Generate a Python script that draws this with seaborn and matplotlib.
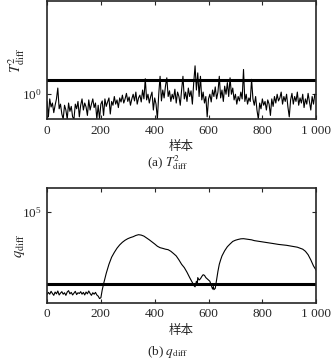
import numpy as np
import pandas as pd
import seaborn as sns
import matplotlib.pyplot as plt
from matplotlib.ticker import FixedLocator, NullLocator

# T2_diff statistic, every 5th sample
t2_samples = list(range(0, 1000, 5))
t2_values = [
    0.85, 0.60, 0.90, 0.75, 0.82, 0.66, 0.78, 0.90, 1.15, 0.72,
    0.80, 0.64, 0.57, 0.78, 0.70, 0.57, 0.82, 0.68, 0.76, 0.60,
    0.57, 0.80, 0.72, 0.85, 0.60, 0.78, 0.90, 0.70, 0.82, 0.75,
    0.62, 0.88, 0.70, 0.80, 0.90, 0.74, 0.82, 0.57, 0.78, 0.57,
    0.80, 0.86, 0.62, 0.90, 0.76, 0.84, 0.92, 0.64, 0.85, 0.78,
    0.95, 0.80, 0.88, 0.74, 0.92, 0.84, 0.98, 0.82, 0.90, 1.02,
    0.85, 0.94, 0.78, 0.90, 1.00, 0.86, 1.05, 0.80, 0.92, 0.98,
    0.84, 1.10, 0.90, 1.42, 0.88, 1.00, 0.82, 0.95, 1.05, 0.70,
    0.92, 0.80, 0.57, 1.00, 1.50, 0.86, 1.10, 0.92, 1.20, 1.45,
    0.95, 1.08, 0.85, 1.00, 0.90, 1.12, 0.82, 1.05, 0.95, 0.78,
    1.10, 1.50, 0.90, 1.05, 0.85, 1.15, 0.95, 1.08, 0.80, 1.30,
    1.90, 1.10, 1.62, 0.95, 1.50, 0.88, 1.05, 0.82, 0.95, 0.60,
    0.90, 1.00, 0.84, 1.10, 0.95, 1.18, 0.90, 1.05, 1.50, 0.92,
    1.10, 0.85, 1.20, 1.00, 1.30, 0.95, 1.45, 1.00, 1.15, 0.88,
    1.00, 0.80, 0.95, 0.86, 1.05, 0.90, 1.75, 0.85, 1.00, 0.80,
    0.92, 0.85, 1.40, 0.90, 0.78, 0.95, 0.70, 0.57, 0.82, 0.72,
    0.90, 0.78, 0.85, 0.70, 0.88, 0.80, 0.62, 0.90, 0.76, 0.95,
    0.82, 1.00, 0.86, 0.92, 1.05, 0.80, 0.95, 0.85, 1.00, 0.75,
    0.60, 0.88, 1.02, 0.80, 0.95, 0.85, 1.05, 0.78, 0.92, 0.82,
    1.00, 0.74, 0.90, 0.80, 1.02, 0.85, 0.70, 0.95, 0.80, 1.00,
]
t2_limit = 1.37

# q_diff statistic
q_samples = list(range(0, 200, 5)) + [
    200, 205, 210, 215, 220, 230, 240, 250, 260, 270, 280, 290, 300,
    310, 320, 330, 340, 350, 360, 370, 380, 390, 400, 410, 420, 430,
    440, 450, 460, 470, 480, 490, 500, 510, 520, 530, 540, 545, 550,
    555, 558, 560, 565, 570, 575, 580, 585, 590, 595, 600, 605, 610,
    615, 618, 620, 625, 630, 635, 640, 645, 650, 660, 670, 680, 690,
    700, 710, 720, 730, 740, 750, 760, 770, 780, 790, 800, 810, 820,
    830, 840, 850, 860, 870, 880, 890, 900, 910, 920, 930, 940, 950,
    960, 970, 980, 990, 1000]
q_values = [
    9200, 9800, 9300, 10100, 9500, 9000, 9900, 9400, 10200, 9100,
    9600, 10000, 9300, 9700, 9000, 9900, 10300, 9400, 9800, 9100,
    9600, 10100, 9200, 9700, 9500, 10000, 9300, 9800, 9100, 9900,
    9400, 10200, 9500, 9000, 9700, 9300, 9800, 9100, 8800, 8200,
    8400, 10500, 12500, 14500, 17000, 22000, 27000, 31000, 35000, 38500,
    41500, 44000, 46000, 47500, 48700, 50500, 51600, 51000, 49500, 47000,
    44500, 42000, 39500, 37000, 35500, 34800, 34000, 33500, 32000, 30000,
    28000, 25000, 22000, 20000, 17500, 15000, 13000, 12000, 11500, 13500,
    12000, 15000, 14000, 14500, 15500, 16300, 16000, 15000, 14500, 14000,
    13500, 12000, 10800, 11600, 10600, 11000, 14000, 18000, 22000, 25000,
    28000, 32500, 36500, 39500, 42500, 44000, 45000, 45800, 46000, 45500,
    45000, 44500, 43500, 43000, 42500, 42000, 41500, 41000, 40500, 40000,
    39500, 39000, 38700, 38300, 38000, 37500, 37000, 36500, 36000, 35000,
    34000, 32000, 29000, 25000, 21000, 18500,
]
q_limit = 12300

x_ticks = [0, 200, 400, 600, 800, 1000]
x_ticklabels = ["0", "200", "400", "600", "800", "1 000"]

sns.set_style("ticks")
plt.rcParams["font.family"] = ["Liberation Serif", "Noto Sans CJK SC"]
plt.rcParams["mathtext.fontset"] = "stix"
plt.rcParams["xtick.direction"] = "in"
plt.rcParams["ytick.direction"] = "in"

fig = plt.figure(figsize=(3.36, 3.61), dpi=100)
ax1 = fig.add_axes([0.140, 0.670, 0.801, 0.327])
ax2 = fig.add_axes([0.140, 0.161, 0.801, 0.319])

df1 = pd.DataFrame({"x": t2_samples, "y": t2_values})
df2 = pd.DataFrame({"x": q_samples, "y": q_values})

sns.lineplot(data=df1, x="x", y="y", ax=ax1, color="black", linewidth=0.8)
ax1.axhline(t2_limit, color="black", linewidth=2.2)
ax1.set_yscale("log")
ax1.set_ylim(0.57, 8.2)
ax1.yaxis.set_major_locator(FixedLocator([1]))

sns.lineplot(data=df2, x="x", y="y", ax=ax2, color="black", linewidth=0.8)
ax2.axhline(q_limit, color="black", linewidth=2.2)
ax2.set_yscale("log")
ax2.set_ylim(10**3.86, 10**5.3)
ax2.yaxis.set_major_locator(FixedLocator([1e5]))

for ax, ylab, cap, capy in [
    (ax1, r"$T^{2}_{\mathrm{diff}}$", r"(a) $T^{2}_{\mathrm{diff}}$", 163),
    (ax2, r"$q_{\mathrm{diff}}$", r"(b) $q_{\mathrm{diff}}$", 352),
]:
    ax.set_xlim(0, 1000)
    ax.set_xticks(x_ticks)
    ax.set_xticklabels(x_ticklabels)
    ax.yaxis.set_minor_locator(NullLocator())
    ax.tick_params(axis="both", which="major", labelsize=9.5, length=3,
                   width=0.8, top=True, right=True, pad=4)
    for sp in ax.spines.values():
        sp.set_linewidth(1.2)
        sp.set_visible(True)
    ax.set_xlabel("样本", fontsize=9, labelpad=3)
    ax.set_ylabel(ylab, fontsize=10.5)
    ax.yaxis.set_label_coords(-0.075, 0.5)
    fig.text(0.5, 1 - capy / 361, cap, fontsize=9.5, ha="center", va="center")

fig.savefig("out.png", dpi=100)
